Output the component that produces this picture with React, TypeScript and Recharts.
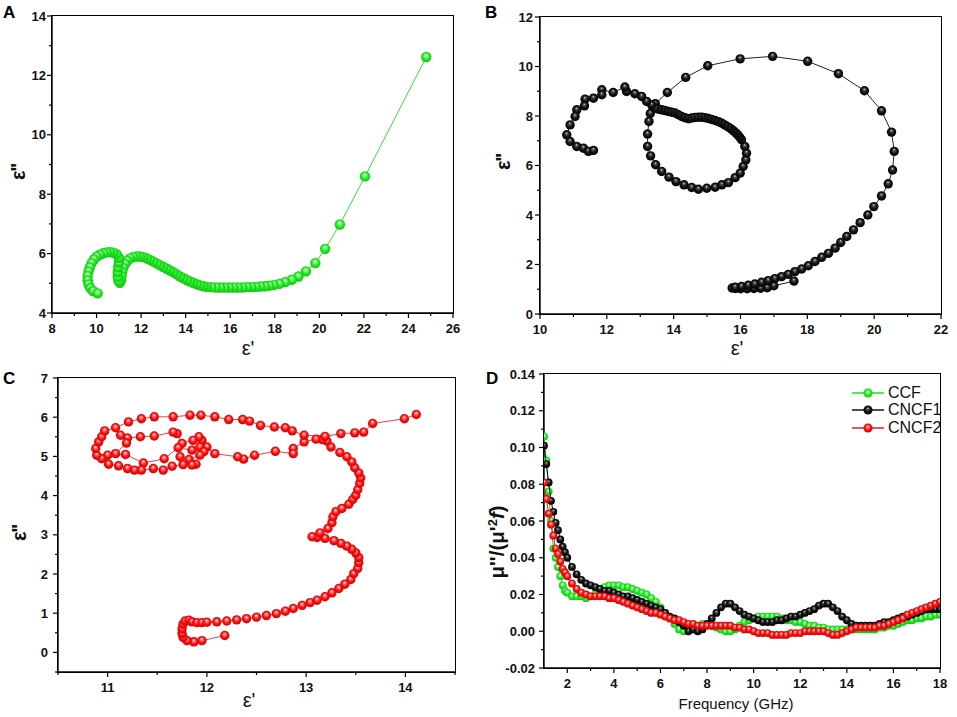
import React from 'react';
import { ScatterChart, Scatter, XAxis, YAxis } from 'recharts';

// ---------- Panel A (CCF): [ε', ε''] ----------
const panelAPoints: [number, number][] = [
  [24.8, 12.62], [22.05, 8.6], [20.92, 6.98], [20.26, 6.16], [19.82, 5.68], [19.4, 5.4], [19.06, 5.23],
  [18.76, 5.12], [18.46, 5.04], [18.2, 4.98], [17.95, 4.94], [17.75, 4.92], [17.55, 4.9], [17.35, 4.89],
  [17.15, 4.88], [16.95, 4.87], [16.75, 4.87], [16.55, 4.86], [16.35, 4.86], [16.15, 4.86], [15.95, 4.86],
  [15.75, 4.86], [15.55, 4.86], [15.35, 4.86], [15.15, 4.87], [14.95, 4.88], [14.8, 4.9], [14.65, 4.93],
  [14.5, 4.97], [14.35, 5.01], [14.2, 5.06], [14.05, 5.11], [13.9, 5.17], [13.75, 5.23], [13.6, 5.3],
  [13.45, 5.37], [13.3, 5.43], [13.15, 5.49], [13.0, 5.55], [12.85, 5.61], [12.7, 5.67], [12.55, 5.73],
  [12.4, 5.79], [12.25, 5.84], [12.1, 5.88], [11.95, 5.9], [11.8, 5.9], [11.65, 5.88], [11.5, 5.84],
  [11.38, 5.76], [11.28, 5.65], [11.2, 5.52], [11.15, 5.38], [11.12, 5.24], [11.1, 5.1], [11.05, 5.02],
  [10.98, 5.08], [10.95, 5.22], [10.95, 5.38], [10.97, 5.54], [11.0, 5.7], [11.0, 5.86], [10.9, 5.98],
  [10.75, 6.03], [10.6, 6.05], [10.45, 6.04], [10.3, 6.01], [10.15, 5.96], [10.0, 5.9], [9.88, 5.8],
  [9.78, 5.68], [9.7, 5.54], [9.64, 5.4], [9.6, 5.25], [9.6, 5.1], [9.64, 4.96], [9.72, 4.84],
  [9.84, 4.74], [10.05, 4.66],
];

// ---------- Panel B (CNCF1) ----------
const panelBPoints: [number, number][] = [
  [17.6, 1.33], [17.0, 1.14], [16.8, 1.06], [16.6, 1.04], [16.4, 1.03], [16.2, 1.02], [16.0, 1.02],
  [15.85, 1.03], [15.75, 1.05], [15.84, 1.08], [16.03, 1.11], [16.23, 1.16], [16.43, 1.21], [16.63, 1.28],
  [16.83, 1.35], [17.03, 1.43], [17.23, 1.51], [17.43, 1.6], [17.63, 1.71], [17.83, 1.82], [18.03, 1.95],
  [18.23, 2.12], [18.43, 2.29], [18.63, 2.45], [18.83, 2.66], [19.0, 2.89], [19.18, 3.13], [19.38, 3.4],
  [19.58, 3.69], [19.81, 4.0], [19.99, 4.34], [20.22, 4.77], [20.42, 5.26], [20.55, 5.82], [20.6, 6.57],
  [20.52, 7.35], [20.22, 8.21], [19.71, 9.02], [18.93, 9.71], [18.01, 10.21], [16.96, 10.41], [15.99, 10.31],
  [15.02, 10.03], [14.36, 9.56], [13.81, 8.95], [13.45, 8.5], [13.3, 8.1], [13.26, 7.78], [13.22, 7.27],
  [13.22, 6.77], [13.31, 6.39], [13.46, 6.03], [13.64, 5.76], [13.86, 5.53], [14.07, 5.35], [14.31, 5.22],
  [14.54, 5.11], [14.74, 5.04], [14.99, 5.08], [15.24, 5.12], [15.44, 5.22], [15.64, 5.31], [15.84, 5.51],
  [15.99, 5.69], [16.08, 5.96], [16.16, 6.23], [16.18, 6.5], [16.13, 6.77], [16.03, 7.04], [15.98, 7.14],
  [15.92, 7.24], [15.86, 7.32], [15.79, 7.4], [15.72, 7.48], [15.64, 7.55], [15.54, 7.63], [15.44, 7.71],
  [15.34, 7.77], [15.24, 7.82], [15.14, 7.86], [15.04, 7.9], [14.94, 7.93], [14.84, 7.95], [14.74, 7.95],
  [14.64, 7.94], [14.54, 7.92], [14.44, 7.89], [14.34, 7.93], [14.24, 7.98], [14.14, 8.05], [14.04, 8.12],
  [13.94, 8.15], [13.84, 8.18], [13.74, 8.22], [13.64, 8.25], [13.54, 8.28], [13.44, 8.32], [13.34, 8.45],
  [13.19, 8.59], [13.04, 8.79], [12.84, 8.9], [12.59, 8.99], [12.54, 9.17], [12.19, 8.95], [11.85, 9.06],
  [11.85, 8.86], [11.6, 8.72], [11.35, 8.68], [11.33, 8.41], [11.1, 8.25], [11.05, 7.98], [10.9, 7.64],
  [10.8, 7.24], [10.9, 6.97], [11.1, 6.77], [11.3, 6.7], [11.45, 6.57], [11.6, 6.61],
];

// ---------- Panel C (CNCF2) ----------
const panelCPoints: [number, number][] = [
  [12.18, 0.43], [11.95, 0.3], [11.87, 0.27], [11.8, 0.3], [11.76, 0.38], [11.75, 0.48], [11.75, 0.6],
  [11.76, 0.72], [11.78, 0.8], [11.82, 0.82], [11.85, 0.78], [11.9, 0.76], [11.95, 0.76], [12.0, 0.77],
  [12.1, 0.78], [12.2, 0.8], [12.3, 0.83], [12.4, 0.86], [12.5, 0.9], [12.6, 0.94], [12.7, 0.99],
  [12.79, 1.05], [12.87, 1.12], [12.96, 1.2], [13.04, 1.27], [13.11, 1.33], [13.19, 1.42], [13.26, 1.52],
  [13.33, 1.63], [13.39, 1.74], [13.45, 1.86], [13.48, 2.01], [13.52, 2.14], [13.53, 2.29], [13.53, 2.42],
  [13.5, 2.54], [13.46, 2.63], [13.41, 2.71], [13.35, 2.78], [13.28, 2.85], [13.19, 2.91], [13.11, 2.93],
  [13.06, 2.95], [13.14, 3.05], [13.22, 3.16], [13.26, 3.31], [13.27, 3.46], [13.3, 3.59], [13.36, 3.67],
  [13.43, 3.78], [13.47, 3.9], [13.5, 4.01], [13.52, 4.15], [13.54, 4.31], [13.55, 4.45], [13.53, 4.58],
  [13.49, 4.71], [13.46, 4.86], [13.41, 4.99], [13.34, 5.1], [13.25, 5.24], [13.21, 5.39], [13.16, 5.43],
  [13.1, 5.44], [12.98, 5.37], [12.87, 5.2], [12.87, 5.07], [12.69, 5.13], [12.48, 5.03], [12.37, 4.93],
  [12.31, 4.99], [12.08, 5.07], [12.0, 5.24], [11.95, 5.41], [11.92, 5.5], [11.86, 5.41], [11.75, 5.33],
  [11.7, 5.58], [11.66, 5.62], [11.47, 5.52], [11.33, 5.5], [11.2, 5.47], [11.13, 5.54], [11.19, 5.34],
  [11.08, 5.07], [11.0, 5.03], [11.18, 5.05], [11.36, 4.83], [11.57, 4.94], [11.71, 5.22], [11.85, 5.16],
  [11.93, 5.24], [11.97, 5.12], [11.93, 5.03], [11.82, 4.92], [11.73, 4.99], [11.89, 4.8], [11.85, 4.78],
  [11.76, 4.79], [11.65, 4.75], [11.56, 4.65], [11.46, 4.69], [11.34, 4.65], [11.27, 4.65], [11.2, 4.69],
  [11.11, 4.76], [11.01, 4.8], [10.94, 4.94], [10.89, 5.03], [10.88, 5.2], [10.91, 5.37], [10.94, 5.5],
  [10.97, 5.65], [11.08, 5.73], [11.21, 5.88], [11.34, 5.96], [11.47, 6.01], [11.66, 6.01], [11.83, 6.05],
  [11.94, 6.05], [12.08, 6.01], [12.22, 5.94], [12.36, 5.94], [12.43, 5.9], [12.54, 5.79], [12.68, 5.75],
  [12.79, 5.73], [12.86, 5.65], [12.98, 5.54], [13.19, 5.51], [13.35, 5.58], [13.49, 5.6], [13.58, 5.62],
  [13.67, 5.84], [13.99, 5.96], [14.11, 6.07],
];

// ---------- Panel D: μ''/(μ'^2 f) vs frequency ----------
const freqGHz = [
  1.0, 1.1, 1.2, 1.3, 1.4, 1.5, 1.6, 1.7, 1.8, 1.9,
  2.0, 2.2, 2.4, 2.6, 2.8, 3.0, 3.2, 3.4, 3.6, 3.8,
  4.0, 4.2, 4.4, 4.6, 4.8, 5.0, 5.2, 5.4, 5.6, 5.8,
  6.0, 6.2, 6.4, 6.6, 6.8, 7.0, 7.2, 7.4, 7.6, 7.8,
  8.0, 8.2, 8.4, 8.6, 8.8, 9.0, 9.2, 9.4, 9.6, 9.8,
  10.0, 10.2, 10.4, 10.6, 10.8, 11.0, 11.2, 11.4, 11.6, 11.8,
  12.0, 12.2, 12.4, 12.6, 12.8, 13.0, 13.2, 13.4, 13.6, 13.8,
  14.0, 14.2, 14.4, 14.6, 14.8, 15.0, 15.2, 15.4, 15.6, 15.8,
  16.0, 16.2, 16.4, 16.6, 16.8, 17.0, 17.2, 17.4, 17.6, 17.8, 18.0,
];
const ccfValues = [
  0.106, 0.093, 0.076, 0.060, 0.045, 0.040, 0.035, 0.030, 0.025, 0.022,
  0.021, 0.019, 0.019, 0.019, 0.018, 0.019, 0.020, 0.022, 0.024, 0.025,
  0.025, 0.025, 0.024, 0.024, 0.023, 0.022, 0.021, 0.020, 0.018, 0.016,
  0.013, 0.010, 0.007, 0.004, 0.001, 0.000, 0.001, 0.002, 0.003, 0.004,
  0.004, 0.003, 0.002, 0.001, 0.000, 0.000, 0.001, 0.003, 0.005, 0.006,
  0.007, 0.008, 0.008, 0.008, 0.008, 0.008, 0.007, 0.006, 0.006, 0.005,
  0.005, 0.004, 0.003, 0.003, 0.002, 0.002, 0.001, 0.001, 0.001, 0.001,
  0.001, 0.001, 0.001, 0.001, 0.001, 0.001, 0.001, 0.002, 0.002, 0.003,
  0.003, 0.004, 0.005, 0.006, 0.006, 0.007, 0.007, 0.008, 0.008, 0.009, 0.009,
];
const cncf1Values = [
  0.101, 0.091, 0.081, 0.071, 0.065, 0.059, 0.055, 0.050, 0.046, 0.043,
  0.040, 0.035, 0.031, 0.028, 0.026, 0.025, 0.024, 0.023, 0.022, 0.022,
  0.021, 0.020, 0.019, 0.019, 0.018, 0.017, 0.016, 0.015, 0.014, 0.013,
  0.012, 0.010, 0.008, 0.007, 0.005, 0.003, 0.000, 0.001, 0.000, 0.001,
  0.004, 0.007, 0.010, 0.013, 0.015, 0.015, 0.013, 0.011, 0.009, 0.008,
  0.007, 0.006, 0.005, 0.005, 0.005, 0.006, 0.006, 0.007, 0.008, 0.008,
  0.009, 0.010, 0.011, 0.012, 0.014, 0.015, 0.015, 0.013, 0.011, 0.008,
  0.006, 0.004, 0.003, 0.003, 0.003, 0.003, 0.003, 0.004, 0.005, 0.005,
  0.006, 0.007, 0.008, 0.008, 0.009, 0.010, 0.011, 0.012, 0.012, 0.012, 0.012,
];
const cncf2Values = [
  0.081, 0.072, 0.064, 0.058, 0.052, 0.045, 0.042, 0.038, 0.034, 0.032,
  0.030, 0.026, 0.023, 0.021, 0.020, 0.019, 0.019, 0.019, 0.019, 0.018,
  0.018, 0.017, 0.016, 0.015, 0.014, 0.013, 0.012, 0.011, 0.010, 0.010,
  0.009, 0.008, 0.007, 0.006, 0.006, 0.005, 0.004, 0.004, 0.003, 0.003,
  0.003, 0.003, 0.003, 0.003, 0.003, 0.003, 0.002, 0.002, 0.001, 0.001,
  0.000, -0.001, -0.001, -0.001, -0.002, -0.002, -0.002, -0.002, -0.001, -0.001,
  -0.001, 0.000, 0.000, 0.000, 0.000, 0.000, -0.001, -0.002, -0.002, -0.001,
  0.000, 0.001, 0.002, 0.002, 0.002, 0.002, 0.002, 0.003, 0.003, 0.004,
  0.005, 0.006, 0.007, 0.009, 0.010, 0.011, 0.012, 0.013, 0.014, 0.015, 0.016,
];
const seriesNamesD = ['CCF', 'CNCF1', 'CNCF2'];

// ---------- Axis ranges and ticks ----------
const aXDomain: [number, number] = [8, 26];
const aYDomain: [number, number] = [4, 14];
const bXDomain: [number, number] = [10, 22];
const bYDomain: [number, number] = [0, 12];
const cXDomain: [number, number] = [10.5, 14.5];
const cYDomain: [number, number] = [-0.5, 7];
const dXDomain: [number, number] = [1, 18];
const dYDomain: [number, number] = [-0.02, 0.14];

const aXTicks = [8, 9, 10, 11, 12, 13, 14, 15, 16, 17, 18, 19, 20, 21, 22, 23, 24, 25, 26];
const aXMajor = [8, 10, 12, 14, 16, 18, 20, 22, 24, 26];
const aYTicks = [4, 5, 6, 7, 8, 9, 10, 11, 12, 13, 14];
const aYMajor = [4, 6, 8, 10, 12, 14];
const bXTicks = [10, 11, 12, 13, 14, 15, 16, 17, 18, 19, 20, 21, 22];
const bXMajor = [10, 12, 14, 16, 18, 20, 22];
const bYTicks = [0, 1, 2, 3, 4, 5, 6, 7, 8, 9, 10, 11, 12];
const bYMajor = [0, 2, 4, 6, 8, 10, 12];
const cXTicks = [10.5, 11, 11.5, 12, 12.5, 13, 13.5, 14, 14.5];
const cXMajor = [11, 12, 13, 14];
const cYTicks = [-0.5, 0, 0.5, 1, 1.5, 2, 2.5, 3, 3.5, 4, 4.5, 5, 5.5, 6, 6.5, 7];
const cYMajor = [0, 1, 2, 3, 4, 5, 6, 7];
const dXTicks = [2, 3, 4, 5, 6, 7, 8, 9, 10, 11, 12, 13, 14, 15, 16, 17, 18];
const dXMajor = [2, 4, 6, 8, 10, 12, 14, 16, 18];
const dYTicks = [-0.02, -0.01, 0, 0.01, 0.02, 0.03, 0.04, 0.05, 0.06, 0.07, 0.08, 0.09, 0.1, 0.11, 0.12, 0.13, 0.14];
const dYMajor = [-0.02, 0, 0.02, 0.04, 0.06, 0.08, 0.1, 0.12, 0.14];

const toXY = (pts: [number, number][]) => pts.map(([x, y]) => ({ x, y }));
const dRows = (vals: number[]) => freqGHz.map((f, i) => ({ x: f, y: vals[i] }));

const FONT = '"Liberation Sans", Arial, Helvetica, sans-serif';
const tickStyle = { fontFamily: FONT, fontSize: 13, fontWeight: 700, fill: '#111' };

const isIn = (list: number[], v: number) => list.some((m) => Math.abs(m - v) < 1e-9);

function makeXTick(majors: number[], fmt: (v: number) => string) {
  return (props: any) => {
    const { x, y, payload } = props;
    const major = isIn(majors, payload.value);
    return (
      <g>
        <line x1={x} x2={x} y1={y} y2={y + (major ? 5 : 3)} stroke="#000" strokeWidth={1.2} />
        {major && (
          <text x={x} y={y + 20} textAnchor="middle" style={tickStyle}>
            {fmt(payload.value)}
          </text>
        )}
      </g>
    );
  };
}
function makeYTick(majors: number[], fmt: (v: number) => string, gap: number) {
  return (props: any) => {
    const { x, y, payload } = props;
    const major = isIn(majors, payload.value);
    return (
      <g>
        <line x1={x} x2={x - (major ? 5 : 3)} y1={y} y2={y} stroke="#000" strokeWidth={1.2} />
        {major && (
          <text x={x - gap} y={y + 4.6} textAnchor="end" style={tickStyle}>
            {fmt(payload.value)}
          </text>
        )}
      </g>
    );
  };
}

const intFmt = (v: number) => String(v);
const d2Fmt = (v: number) => v.toFixed(2);

const ball = (gradId: string, r: number) => (props: any) => {
  const { cx, cy } = props;
  if (cx == null || cy == null) return <g />;
  return <circle cx={cx} cy={cy} r={r} fill={`url(#${gradId})`} />;
};

const axisLine = { stroke: '#000', strokeWidth: 1.4 };

type PanelProps = {
  left: number; topPos: number;
  width: number; height: number; top: number; right: number; yWidth: number; xHeight: number;
  xDomain: [number, number]; yDomain: [number, number];
  xTicks: number[]; xMajor: number[]; yTicks: number[]; yMajor: number[];
  xFmt: (v: number) => string; yFmt: (v: number) => string; yGap: number;
  children: React.ReactNode;
};

function Panel(p: PanelProps) {
  const plotW = p.width - p.yWidth - p.right;
  const plotH = p.height - p.top - p.xHeight;
  return (
    <div style={{ position: 'absolute', left: p.left, top: p.topPos, width: p.width, height: p.height }}>
      <ScatterChart width={p.width} height={p.height} margin={{ top: p.top, right: p.right, bottom: 0, left: 0 }}>
        <XAxis
          type="number" dataKey="x" domain={p.xDomain} allowDataOverflow ticks={p.xTicks} interval={0}
          height={p.xHeight} tickSize={0} tickMargin={0} tickLine={false} axisLine={axisLine}
          tick={makeXTick(p.xMajor, p.xFmt)}
        />
        <YAxis
          type="number" dataKey="y" domain={p.yDomain} allowDataOverflow ticks={p.yTicks} interval={0}
          width={p.yWidth} tickSize={0} tickMargin={0} tickLine={false} axisLine={axisLine}
          tick={makeYTick(p.yMajor, p.yFmt, p.yGap)}
        />
        {p.children}
      </ScatterChart>
      {/* full plot frame, drawn over the plot area so that its left and bottom sides sit on the axis lines */}
      <div
        style={{
          position: 'absolute', left: p.yWidth - 0.75, top: p.top - 0.75, width: plotW + 1.5, height: plotH + 1.5,
          border: '1.5px solid #000', boxSizing: 'border-box', pointerEvents: 'none', zIndex: 5,
        }}
      />
    </div>
  );
}

function Grad({ id, c0, c1, c2, c3 }: { id: string; c0: string; c1: string; c2: string; c3: string }) {
  return (
    <radialGradient id={id} cx="0.5" cy="0.5" r="0.55" fx="0.48" fy="0.32">
      <stop offset="0" stopColor={c0} />
      <stop offset="0.2" stopColor={c1} />
      <stop offset="0.55" stopColor={c2} />
      <stop offset="1" stopColor={c3} />
    </radialGradient>
  );
}

const abs = (l: number, t: number): React.CSSProperties => ({ position: 'absolute', left: l, top: t });

function LegendItem({ grad, line, label, top }: { grad: string; line: string; label: string; top: number }) {
  return (
    <div style={{ ...abs(852, top - 10), display: 'flex', alignItems: 'center', height: 20, zIndex: 6 }}>
      <svg width={32} height={20}>
        <line x1={0} x2={32} y1={10} y2={10} stroke={line} strokeWidth={1.5} />
        <circle cx={16} cy={10} r={4.5} fill={`url(#${grad})`} />
      </svg>
      <span style={{ fontFamily: FONT, fontSize: 16, color: '#111', marginLeft: 4 }}>{label}</span>
    </div>
  );
}

export default function App() {
  const aData = toXY(panelAPoints);
  const bData = toXY(panelBPoints);
  const cData = toXY(panelCPoints);
  const ccf = dRows(ccfValues);
  const cncf1 = dRows(cncf1Values);
  const cncf2 = dRows(cncf2Values);

  const yLabel: React.CSSProperties = {
    position: 'absolute', fontFamily: FONT, fontWeight: 700, fontSize: 20, color: '#111',
    transform: 'translate(-50%, -50%) rotate(-90deg)', whiteSpace: 'nowrap', letterSpacing: -1,
  };
  const xLabel: React.CSSProperties = {
    position: 'absolute', fontFamily: FONT, fontSize: 20, color: '#111',
    transform: 'translate(-50%, -50%)', whiteSpace: 'nowrap',
  };
  const letter: React.CSSProperties = {
    position: 'absolute', fontFamily: FONT, fontWeight: 700, fontSize: 17, color: '#000', lineHeight: '17px',
  };

  return (
    <div style={{ position: 'absolute', left: 0, top: 0, width: 957, height: 717, background: '#fff', overflow: 'hidden' }}>
      <svg width={0} height={0} style={{ position: 'absolute' }}>
        <defs>
          <Grad id="gG" c0="#ffffff" c1="#9cff9c" c2="#22ee22" c3="#10b810" />
          <Grad id="gK" c0="#e8e8e8" c1="#555555" c2="#111111" c3="#000000" />
          <Grad id="gR" c0="#ffffff" c1="#ff8a8a" c2="#ff1010" c3="#c80000" />
        </defs>
      </svg>

      <Panel left={0} topPos={0} width={478} height={340} top={16} right={25} yWidth={52} xHeight={27}
        xDomain={aXDomain} yDomain={aYDomain} xTicks={aXTicks} xMajor={aXMajor} yTicks={aYTicks} yMajor={aYMajor}
        xFmt={intFmt} yFmt={intFmt} yGap={6}>
        <Scatter data={aData} isAnimationActive={false} line={{ stroke: '#33e033', strokeWidth: 1 }} lineType="joint"
          shape={ball('gG', 5.2)} />
      </Panel>

      <Panel left={478} topPos={0} width={479} height={340} top={17} right={16} yWidth={62} xHeight={26}
        xDomain={bXDomain} yDomain={bYDomain} xTicks={bXTicks} xMajor={bXMajor} yTicks={bYTicks} yMajor={bYMajor}
        xFmt={intFmt} yFmt={intFmt} yGap={7}>
        <Scatter data={bData} isAnimationActive={false} line={{ stroke: '#222', strokeWidth: 1 }} lineType="joint"
          shape={ball('gK', 4.7)} />
      </Panel>

      <Panel left={0} topPos={340} width={478} height={377} top={38} right={23} yWidth={58} xHeight={45}
        xDomain={cXDomain} yDomain={cYDomain} xTicks={cXTicks} xMajor={cXMajor} yTicks={cYTicks} yMajor={cYMajor}
        xFmt={intFmt} yFmt={intFmt} yGap={10}>
        <Scatter data={cData} isAnimationActive={false} line={{ stroke: '#e04848', strokeWidth: 1 }} lineType="joint"
          shape={ball('gR', 4.7)} />
      </Panel>

      <Panel left={478} topPos={340} width={479} height={377} top={34} right={17} yWidth={66} xHeight={49}
        xDomain={dXDomain} yDomain={dYDomain} xTicks={dXTicks} xMajor={dXMajor} yTicks={dYTicks} yMajor={dYMajor}
        xFmt={intFmt} yFmt={d2Fmt} yGap={9}>
        <Scatter name={seriesNamesD[0]} data={ccf} isAnimationActive={false} line={{ stroke: '#22cc22', strokeWidth: 1 }}
          lineType="joint" shape={ball('gG', 3.9)} />
        <Scatter name={seriesNamesD[1]} data={cncf1} isAnimationActive={false} line={{ stroke: '#111', strokeWidth: 1 }}
          lineType="joint" shape={ball('gK', 3.9)} />
        <Scatter name={seriesNamesD[2]} data={cncf2} isAnimationActive={false} line={{ stroke: '#e02020', strokeWidth: 1 }}
          lineType="joint" shape={ball('gR', 3.9)} />
      </Panel>

      <LegendItem grad="gG" line="#22dd22" label={seriesNamesD[0]} top={393} />
      <LegendItem grad="gK" line="#111" label={seriesNamesD[1]} top={410} />
      <LegendItem grad="gR" line="#e02020" label={seriesNamesD[2]} top={428} />

      {/* panel letters */}
      <div style={{ ...letter, ...abs(3, 4) }}>A</div>
      <div style={{ ...letter, ...abs(485, 4) }}>B</div>
      <div style={{ ...letter, ...abs(3, 370) }}>C</div>
      <div style={{ ...letter, ...abs(486, 370) }}>D</div>

      {/* y labels */}
      <div style={{ ...yLabel, left: 18, top: 172 }}>ε''</div>
      <div style={{ ...yLabel, left: 503, top: 162 }}>ε''</div>
      <div style={{ ...yLabel, left: 19, top: 533 }}>ε''</div>
      <div style={{ ...yLabel, left: 497, top: 542, letterSpacing: 0, fontSize: 20.5 }}>
        μ''/(μ'<sup style={{ fontSize: 13 }}>2</sup><i>f</i>)
      </div>

      {/* x labels */}
      <div style={{ ...xLabel, left: 248, top: 348 }}>ε'</div>
      <div style={{ ...xLabel, left: 737, top: 348 }}>ε'</div>
      <div style={{ ...xLabel, left: 249, top: 700 }}>ε'</div>
      <div style={{ ...xLabel, left: 736, top: 703, fontSize: 15 }}>Frequency (GHz)</div>
    </div>
  );
}
